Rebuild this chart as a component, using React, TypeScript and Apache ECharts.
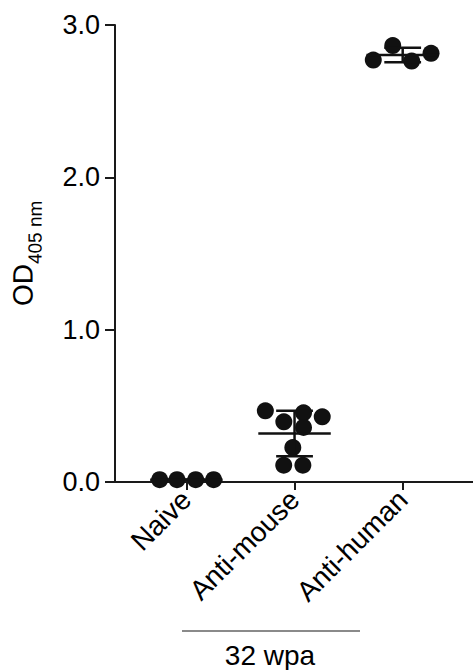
import React, { useEffect, useRef } from "react";
import * as echarts from "echarts";

const categories = ["Naive", "Anti-mouse", "Anti-human"];
const naiveValues = [0.015, 0.015, 0.015, 0.015];
const naiveJitter = [-0.247, -0.087, 0.086, 0.252];
const antiMouseValues = [0.467, 0.395, 0.454, 0.428, 0.358, 0.226, 0.11, 0.11];
const antiMouseJitter = [-0.27, -0.099, 0.083, 0.256, 0.083, -0.016, -0.1, 0.077];
const antiHumanValues = [2.77, 2.865, 2.763, 2.814];
const antiHumanJitter = [-0.272, -0.092, 0.083, 0.262];
const yTicks = [0, 1, 2, 3];
const groupLabel = "32 wpa";
const yTitleMain = "OD";
const yTitleSub = "405 nm";

const groups = [
  { values: naiveValues, jitter: naiveJitter },
  { values: antiMouseValues, jitter: antiMouseJitter },
  { values: antiHumanValues, jitter: antiHumanJitter },
];

function meanSd(v: number[]) {
  const m = v.reduce((a, b) => a + b, 0) / v.length;
  const s = Math.sqrt(v.reduce((a, b) => a + (b - m) * (b - m), 0) / (v.length - 1));
  return [m, s];
}

const FONT = "'Liberation Sans', Arial, sans-serif";
const ROT = Math.PI / 2 - 0.003;

export default function App() {
  const ref = useRef<HTMLDivElement>(null);
  useEffect(() => {
    if (!ref.current) return;
    const chart = echarts.init(ref.current, null, { renderer: "svg" });
    const points: number[][] = [];
    groups.forEach((g, i) => {
      g.values.forEach((v, j) => points.push([i + 1 + g.jitter[j], v]));
    });
    const stats = groups.map((g, i) => {
      const [m, s] = meanSd(g.values);
      return [i + 1, m, s];
    });
    const axisColor = "#1a1a1a";
    chart.setOption({
      animation: false,
      grid: { left: 115, right: 0, top: 25, bottom: 188 },
      xAxis: {
        type: "value",
        min: 0.34,
        max: 3.65,
        splitLine: { show: false },
        axisLine: { show: true, lineStyle: { color: axisColor, width: 2 } },
        axisTick: {
          show: true,
          customValues: [1, 2, 3],
          length: 8,
          lineStyle: { color: axisColor, width: 2 },
        },
        axisLabel: {
          customValues: [1, 2, 3],
          rotate: 45,
          margin: 13,
          fontSize: 28,
          fontFamily: FONT,
          color: "#000",
          formatter: (v: number) => categories[Math.round(v) - 1] ?? "",
        },
      },
      yAxis: {
        type: "value",
        min: 0,
        max: 3,
        interval: 1,
        splitLine: { show: false },
        axisLine: { show: true, lineStyle: { color: axisColor, width: 2 } },
        axisTick: { show: true, length: 10, lineStyle: { color: axisColor, width: 2 } },
        axisLabel: {
          fontSize: 27,
          fontFamily: FONT,
          color: "#000",
          margin: 15,
          formatter: (v: number) => (yTicks.includes(v) ? v.toFixed(1) : ""),
        },
      },
      series: [
        {
          type: "scatter",
          data: points,
          symbol: "circle",
          symbolSize: 17,
          itemStyle: { color: "#111", opacity: 1 },
          z: 2,
        },
        {
          type: "custom",
          data: stats,
          z: 3,
          renderItem: (params: any, api: any) => {
            const x = api.value(0);
            const m = api.value(1);
            const s = api.value(2);
            const pm = api.coord([x, m]);
            const ph = api.coord([x, m + s]);
            const pl = api.coord([x, m - s]);
            const halfMean = api.size([0.335, 0])[0];
            const halfCap = api.size([0.17, 0])[0];
            const style = { stroke: "#111", lineWidth: 2.5 };
            return {
              type: "group",
              children: [
                { type: "line", shape: { x1: pm[0] - halfMean, y1: pm[1], x2: pm[0] + halfMean, y2: pm[1] }, style },
                { type: "line", shape: { x1: ph[0], y1: ph[1], x2: pl[0], y2: pl[1] }, style },
                { type: "line", shape: { x1: ph[0] - halfCap, y1: ph[1], x2: ph[0] + halfCap, y2: ph[1] }, style },
                { type: "line", shape: { x1: pl[0] - halfCap, y1: pl[1], x2: pl[0] + halfCap, y2: pl[1] }, style },
              ],
            };
          },
        },
      ],
      graphic: [
        {
          type: "text",
          x: 23,
          y: 306,
          rotation: ROT,
          style: {
            text: yTitleMain,
            fontSize: 28,
            fontFamily: FONT,
            fill: "#000",
            textAlign: "left",
            textVerticalAlign: "middle",
          },
        },
        {
          type: "text",
          x: 35,
          y: 264,
          rotation: ROT,
          style: {
            text: yTitleSub,
            fontSize: 19,
            fontFamily: FONT,
            fill: "#000",
            textAlign: "left",
            textVerticalAlign: "middle",
          },
        },
        {
          type: "line",
          shape: { x1: 182, y1: 631, x2: 360, y2: 631 },
          style: { stroke: "#8a8a8a", lineWidth: 2 },
        },
        {
          type: "text",
          x: 270,
          y: 655,
          style: {
            text: groupLabel,
            fontSize: 28,
            fontFamily: FONT,
            fill: "#000",
            textAlign: "center",
            textVerticalAlign: "middle",
          },
        },
      ],
    });
    return () => chart.dispose();
  }, []);
  return (
    <div
      ref={ref}
      style={{ position: "fixed", left: 0, top: 0, width: 473, height: 670, background: "#fff" }}
    />
  );
}
